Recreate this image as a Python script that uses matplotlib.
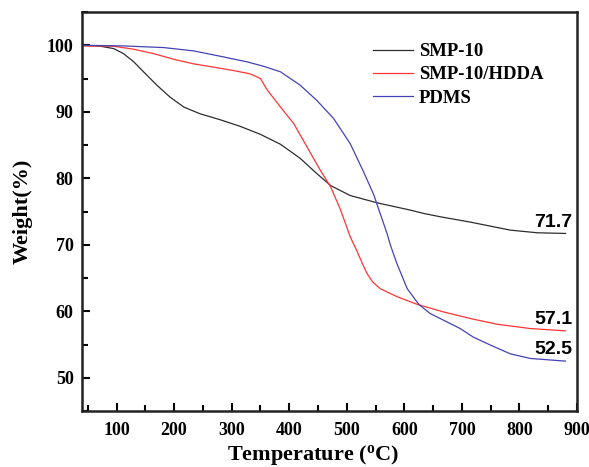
import matplotlib
matplotlib.use("Agg")
import matplotlib.pyplot as plt
from matplotlib.ticker import MultipleLocator

# values (temperature in C, weight in %)
t_smp = [40, 72, 95, 112, 130, 147, 170, 193, 217, 245, 280, 315, 350, 385, 419,
         448, 472, 506, 553, 611, 634, 663, 715, 784, 831, 880]
w_smp = [100.0, 99.85, 99.5, 98.75, 97.5, 96.0, 94.0, 92.2, 90.7, 89.7, 88.8, 87.8, 86.6, 85.1, 83.0,
         80.7, 78.9, 77.4, 76.3, 75.2, 74.7, 74.2, 73.4, 72.2, 71.8, 71.7]

t_hdda = [40, 95, 130, 164, 199, 234, 269, 303, 332, 350, 361, 367, 384, 408, 431, 454, 472,
          489, 506, 518, 527, 535, 545, 558, 587, 622, 668, 715, 761, 819, 880]
w_hdda = [99.9, 99.85, 99.4, 98.75, 97.9, 97.2, 96.7, 96.2, 95.7, 95.0, 93.4, 92.7, 90.8, 88.2, 84.7, 81.2, 78.7,
          75.3, 71.2, 69.0, 67.2, 65.7, 64.4, 63.4, 62.2, 61.05, 59.9, 58.9, 58.05, 57.4, 57.05]

t_pdms = [40, 112, 182, 234, 280, 327, 355, 385, 419, 448, 477, 506, 529, 547, 558, 570,
          576, 587, 605, 625, 645, 674, 697, 720, 750, 784, 819, 880]
w_pdms = [100.0, 99.9, 99.65, 99.15, 98.35, 97.5, 96.85, 96.0, 94.0, 91.7, 89.0, 85.2, 81.0, 77.5, 74.7, 71.7,
          69.9, 67.2, 63.4, 61.05, 59.65, 58.4, 57.4, 56.1, 54.9, 53.6, 52.9, 52.5]

labels = ["SMP-10", "SMP-10/HDDA", "PDMS"]
end_values = ["71.7", "57.1", "52.5"]

plt.rcParams["font.family"] = ["Liberation Serif", "DejaVu Serif"]

fig = plt.figure(figsize=(5.89, 4.67), dpi=100)
ax = fig.add_axes([82 / 589, 1 - 411 / 467, (577 - 82) / 589, (411 - 12) / 467])

ax.plot(t_smp, w_smp, color="#2d2d2d", lw=0.9, label=labels[0])
ax.plot(t_hdda, w_hdda, color="#ff3535", lw=0.9, label=labels[1])
ax.plot(t_pdms, w_pdms, color="#4343b5", lw=0.9, label=labels[2])

ax.set_xlim(40, 900)
ax.set_ylim(45, 105)
ax.xaxis.set_minor_locator(MultipleLocator(50))
ax.yaxis.set_minor_locator(MultipleLocator(5))
ax.set_xticks(range(100, 901, 100))
ax.set_yticks(range(50, 101, 10))
ax.tick_params(which="both", direction="in", width=1.5, top=False, right=False)
ax.tick_params(which="major", length=6, labelsize=13)
ax.tick_params(axis="x", which="major", pad=8)
ax.tick_params(axis="y", which="major", pad=6)
ax.tick_params(which="minor", length=4)
for lab in ax.get_xticklabels() + ax.get_yticklabels():
    lab.set_fontweight("bold")
for sp in ax.spines.values():
    sp.set_linewidth(1.8)
    sp.set_color("#222222")

ax.set_xlabel("Temperature ($\\mathregular{^{o}}$C)", fontsize=16, fontweight="bold")
ax.xaxis.set_label_coords(0.467, -0.081)
ax.set_ylabel("Weight(%)", fontsize=16, fontweight="bold", labelpad=10)

for val, wend in zip(end_values, [w_smp[-1], w_hdda[-1], w_pdms[-1]]):
    ax.annotate(val, xy=(880, wend), xytext=(5, 2), textcoords="offset points",
                ha="right", va="bottom", fontsize=14, fontweight="bold",
                family=["Liberation Sans", "DejaVu Sans"])

ax.legend(loc="upper left", bbox_to_anchor=((373 - 82) / 495, 1 - (43 - 12) / 399),
          frameon=False, borderpad=0, borderaxespad=0,
          prop={"size": 13.5, "weight": "bold"}, handlelength=2.13,
          handletextpad=0.32, labelspacing=0.33)

fig.savefig("out.png", dpi=100)
